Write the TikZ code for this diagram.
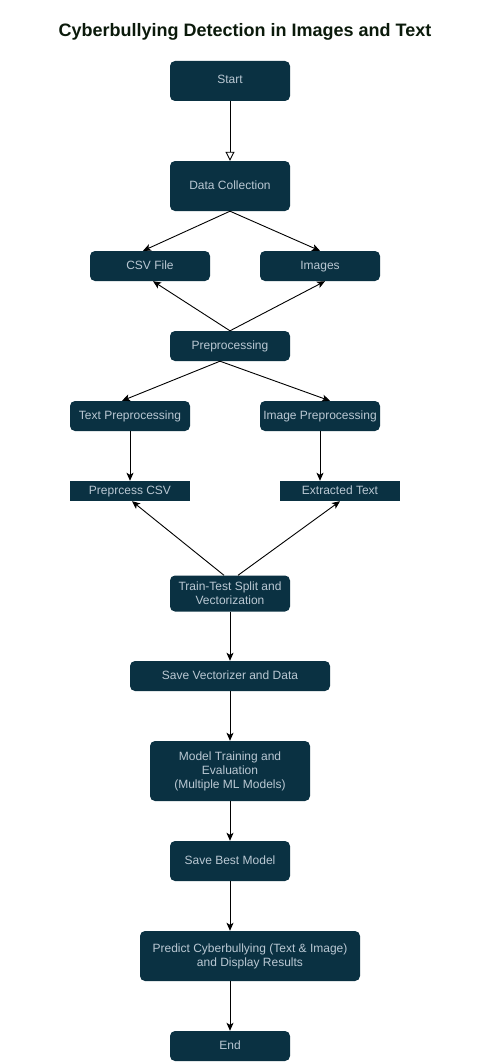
\documentclass[tikz,border=0pt]{standalone}
\usepackage{xcolor}
\usepackage{fontspec}
\setmainfont{Liberation Sans}
\usepackage{tikz}
\usetikzlibrary{shapes,arrows.meta,positioning,calc}

\definecolor{boxfill}{HTML}{0A3142}
\definecolor{boxtext}{HTML}{BAC8D3}
\definecolor{titlecol}{HTML}{0B1A0B}

\begin{document}
\begin{tikzpicture}[x=1pt,y=-1pt,
    stepbox/.style={fill=boxfill, text=boxtext, rounded corners=5pt, align=center,
        inner sep=0pt, minimum width=120pt, minimum height=40pt,
        font=\fontsize{12}{14}\selectfont},
    onebox/.style={stepbox, text height=9pt, text depth=3pt},
    flatbox/.style={onebox, rounded corners=0pt, minimum height=20pt},
    flow/.style={draw, line width=0.9pt, -{Stealth[length=8pt,width=7pt,inset=2pt]}},
    openflow/.style={draw, line width=0.9pt, -{Triangle[open,length=9pt,width=9pt,fill=white]}}]
    \useasboundingbox (0,0) rectangle (490,1062);

    % Title
    \node[text=titlecol, font=\fontsize{18}{22}\selectfont\bfseries] (title) at (245,32)
        {Cyberbullying Detection in Images and Text};

    % Main column
    \node[onebox] (start) at (230,81) {Start};
    \node[onebox, minimum height=50pt] (collect) at (230,186) {Data Collection};
    \node[onebox, minimum height=30pt] (csv) at (150,266) {CSV File};
    \node[onebox, minimum height=30pt] (img) at (320,266) {Images};
    \node[onebox, minimum height=30pt] (prep) at (230,346) {Preprocessing};
    \node[onebox, minimum height=30pt] (txtprep) at (130,416) {Text Preprocessing};
    \node[onebox, minimum height=30pt] (imgprep) at (320,416) {Image Preprocessing};
    \node[flatbox] (pcsv) at (130,491) {Preprcess CSV};
    \node[flatbox] (ext) at (340,491) {Extracted Text};
    \node[stepbox, minimum height=36pt] (split) at (230,593.5) {Train-Test Split and\\Vectorization};
    \node[onebox, minimum width=200pt, minimum height=30pt] (savevec) at (230,676) {Save Vectorizer and Data};
    \node[stepbox, minimum width=160pt, minimum height=60pt] (train) at (230,771)
        {Model Training and\\Evaluation\\(Multiple ML Models)};
    \node[onebox] (savebest) at (230,861) {Save Best Model};
    \node[stepbox, minimum width=220pt, minimum height=50pt] (predict) at (250,956)
        {Predict Cyberbullying (Text \& Image)\\and Display Results};
    \node[onebox, minimum height=30pt] (end) at (230,1046) {End};

    % Connectors
    \draw[openflow] (start) -- (collect);
    \draw[flow] (collect.south) -- ([xshift=-7pt]csv.north);
    \draw[flow] (collect.south) -- (img.north);
    \draw[flow] (prep.north) -- ([xshift=3pt]csv.south);
    \draw[flow] (prep.north) -- ([xshift=5pt]img.south);
    \draw[flow] ([xshift=-10pt]prep.south) -- ([xshift=-8pt]txtprep.north);
    \draw[flow] ([xshift=-10pt]prep.south) -- ([xshift=10pt]imgprep.north);
    \draw[flow] (txtprep) -- (pcsv);
    \draw[flow] (imgprep.south) -- ([xshift=-20pt]ext.north);
    \draw[flow] ([xshift=-6pt]split.north) -- ([xshift=2pt]pcsv.south);
    \draw[flow] ([xshift=8pt]split.north) -- (ext.south);
    \foreach \a/\b in {split/savevec, savevec/train, train/savebest}
        \draw[flow] (\a) -- (\b);
    \draw[flow] (savebest.south) -- ([xshift=-20pt]predict.north);
    \draw[flow] ([xshift=-20pt]predict.south) -- (end.north);
\end{tikzpicture}
\end{document}
